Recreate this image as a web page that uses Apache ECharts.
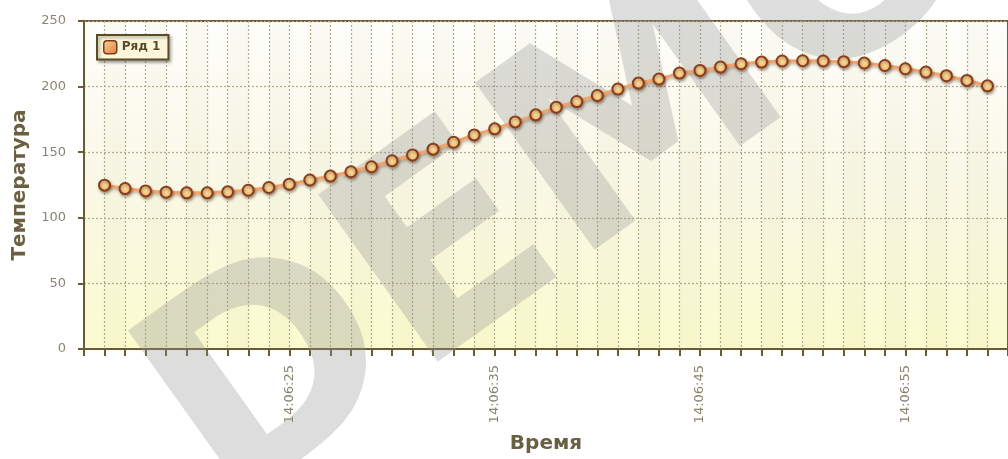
<!DOCTYPE html>
<html>
<head>
<meta charset="utf-8">
<script src="https://cdn.jsdelivr.net/npm/echarts@6/dist/echarts.min.js"></script>
<style>
  html, body { margin: 0; padding: 0; background: #ffffff; }
  #chart { width: 1008px; height: 459px; }
</style>
</head>
<body>
<div id="chart"></div>
<script>
// Time axis categories, one per second
const times = [
  '14:06:15','14:06:16','14:06:17','14:06:18','14:06:19','14:06:20','14:06:21','14:06:22',
  '14:06:23','14:06:24','14:06:25','14:06:26','14:06:27','14:06:28','14:06:29','14:06:30',
  '14:06:31','14:06:32','14:06:33','14:06:34','14:06:35','14:06:36','14:06:37','14:06:38',
  '14:06:39','14:06:40','14:06:41','14:06:42','14:06:43','14:06:44','14:06:45','14:06:46',
  '14:06:47','14:06:48','14:06:49','14:06:50','14:06:51','14:06:52','14:06:53','14:06:54',
  '14:06:55','14:06:56','14:06:57','14:06:58','14:06:59','14:07:00'
];

// Sample times of the series
const sampleTimes = times.slice(1, 45);

// Temperature readings ("Ряд 1")
const temps = [
  124.9, 122.3, 120.5, 119.5, 119.0, 119.0, 119.8, 121.0, 123.1, 125.6,
  128.8, 131.8, 135.1, 138.9, 143.5, 147.9, 152.3, 157.6, 163.2, 167.8,
  173.1, 178.5, 184.3, 188.6, 193.2, 198.1, 202.7, 205.7, 210.3, 212.3,
  214.9, 217.4, 218.7, 219.5, 219.7, 219.5, 219.0, 218.0, 216.1, 213.6,
  211.1, 208.3, 204.7, 200.6
];

// Labelled time ticks
const timeLabels = ['14:06:25', '14:06:35', '14:06:45', '14:06:55'];

const yTicks = [0, 50, 100, 150, 200, 250];

const seriesName = 'Ряд 1';
const xTitle = 'Время';
const yTitle = 'Температура';
const stamp = 'DEMO';

const axisColor = '#6b5a36';
const labelColor = '#8a8470';
const titleColor = '#6a5f42';
const gridDots = '#b2aa90';

const chart = echarts.init(document.getElementById('chart'));

chart.setOption({
  animation: false,
  textStyle: { fontFamily: 'DejaVu Sans' },
  graphic: [{
    type: 'text',
    x: 569,
    y: 178,
    rotation: 0.62,
    z: 1,
    silent: true,
    style: {
      text: stamp,
      align: 'center',
      verticalAlign: 'middle',
      fontFamily: 'DejaVu Sans',
      fontWeight: 'bold',
      fontSize: 282,
      fill: 'rgba(150,150,150,0.32)'
    }
  }],
  legend: {
    data: [seriesName],
    left: 97,
    top: 35,
    orient: 'horizontal',
    backgroundColor: '#fcf6dc',
    borderColor: '#5b4a26',
    borderWidth: 2,
    borderRadius: 0,
    padding: [5, 8, 5, 6],
    shadowColor: 'rgba(0,0,0,0.3)',
    shadowBlur: 3,
    shadowOffsetX: 2,
    shadowOffsetY: 2,
    itemWidth: 13,
    itemHeight: 13,
    itemGap: 6,
    icon: 'roundRect',
    itemStyle: {
      color: new echarts.graphic.LinearGradient(0, 0, 1, 1, [
        { offset: 0, color: '#fbd8a8' },
        { offset: 1, color: '#e07a30' }
      ]),
      borderColor: '#7a3a18',
      borderWidth: 1.5
    },
    textStyle: {
      color: '#5b4a28',
      fontSize: 12,
      fontWeight: 'bold',
      fontFamily: 'DejaVu Sans'
    }
  },
  grid: {
    left: 84,
    right: -11,
    top: 21,
    bottom: 109,
    show: true,
    borderColor: axisColor,
    borderWidth: 2,
    backgroundColor: new echarts.graphic.LinearGradient(0, 0, 0, 1, [
      { offset: 0, color: '#fefefb' },
      { offset: 0.5, color: '#f9f8e6' },
      { offset: 1, color: '#fbfbcf' }
    ])
  },
  xAxis: {
    type: 'category',
    data: times,
    boundaryGap: false,
    name: xTitle,
    nameLocation: 'middle',
    nameGap: 85,
    nameTextStyle: {
      color: titleColor,
      fontSize: 20,
      fontWeight: 'bold',
      fontFamily: 'DejaVu Sans'
    },
    axisLine: { lineStyle: { color: axisColor, width: 2 } },
    axisTick: {
      interval: 0,
      length: 7,
      lineStyle: { color: axisColor, width: 2 }
    },
    axisLabel: {
      rotate: 90,
      margin: 16,
      color: labelColor,
      fontSize: 13,
      interval: (i, v) => timeLabels.indexOf(v) !== -1
    },
    splitLine: {
      show: true,
      interval: 0,
      lineStyle: { color: gridDots, width: 1.2, type: [2, 2] }
    },
    splitArea: {
      show: true,
      interval: 0,
      areaStyle: { color: ['rgba(0,0,0,0)', 'rgba(140,130,60,0.035)'] }
    }
  },
  yAxis: {
    type: 'value',
    min: 0,
    max: 250,
    interval: 50,
    name: yTitle,
    nameLocation: 'middle',
    nameGap: 51,
    nameTextStyle: {
      color: titleColor,
      fontSize: 20,
      fontWeight: 'bold',
      fontFamily: 'DejaVu Sans'
    },
    axisLine: { show: true, lineStyle: { color: axisColor, width: 2 } },
    axisTick: { show: true, length: 6, lineStyle: { color: axisColor, width: 2 } },
    axisLabel: {
      margin: 18,
      color: labelColor,
      fontSize: 13,
      formatter: v => (yTicks.indexOf(v) !== -1 ? String(v) : '')
    },
    splitLine: {
      show: true,
      lineStyle: { color: gridDots, width: 1.2, type: [2, 2] }
    }
  },
  series: [{
    name: seriesName,
    type: 'line',
    z: 5,
    data: sampleTimes.map((t, i) => [t, temps[i]]),
    symbol: 'circle',
    symbolSize: 11,
    showAllSymbol: true,
    lineStyle: {
      color: '#f2a56a',
      width: 3,
      shadowColor: 'rgba(90,50,20,0.35)',
      shadowBlur: 3,
      shadowOffsetX: 1,
      shadowOffsetY: 2
    },
    itemStyle: {
      color: new echarts.graphic.RadialGradient(0.4, 0.4, 0.7, [
        { offset: 0, color: '#fde6a8' },
        { offset: 1, color: '#f2b060' }
      ]),
      borderColor: '#8a3c1c',
      borderWidth: 2,
      shadowColor: 'rgba(60,30,10,0.4)',
      shadowBlur: 3,
      shadowOffsetX: 1,
      shadowOffsetY: 2
    }
  }]
});
</script>
</body>
</html>
